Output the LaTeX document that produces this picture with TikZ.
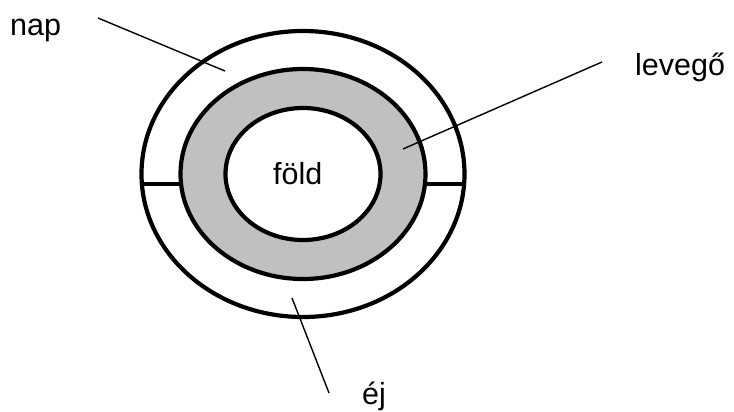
\documentclass[tikz,border=0pt]{standalone}
\usepackage{fontspec}
\setmainfont{Liberation Sans}
\definecolor{ringgray}{RGB}{192,192,192}
\begin{document}
\begin{tikzpicture}[x=1pt,y=-1pt,
  ring/.style={line width=4.2pt},
  lead/.style={line width=1.4pt},
  lbl/.style={anchor=base west, inner sep=0pt, font=\fontsize{30.5}{36}\selectfont}]
\useasboundingbox (0,0) rectangle (734,412);
\fill[white] (0,0) rectangle (734,412);
% rings
\draw[ring, fill=white] (303,174) ellipse [x radius=161.5pt, y radius=143pt];
\draw[ring] (141.9,184) -- (181,184);
\draw[ring] (464.1,184) -- (425,184);
\draw[ring, fill=ringgray] (303,174) ellipse [x radius=122.5pt, y radius=105pt];
\draw[ring, fill=white] (303,174) ellipse [x radius=77.5pt, y radius=66pt];
% labels
\node[lbl] (nap) at (10,36) {nap};
\node[lbl] (fold) at (273,184) {föld};
\node[lbl] (levego) at (635,76) {levegő};
\node[lbl] (ej) at (362,404) {éj};
% leader lines
\coordinate (napA) at (98,18);
\coordinate (napB) at (225,71);
\coordinate (levA) at (602,62);
\coordinate (levB) at (403,149);
\coordinate (ejA) at (292,298);
\coordinate (ejB) at (329,393);
\draw[lead] (napA) -- (napB);
\draw[lead] (levA) -- (levB);
\draw[lead] (ejA) -- (ejB);
\end{tikzpicture}
\end{document}
